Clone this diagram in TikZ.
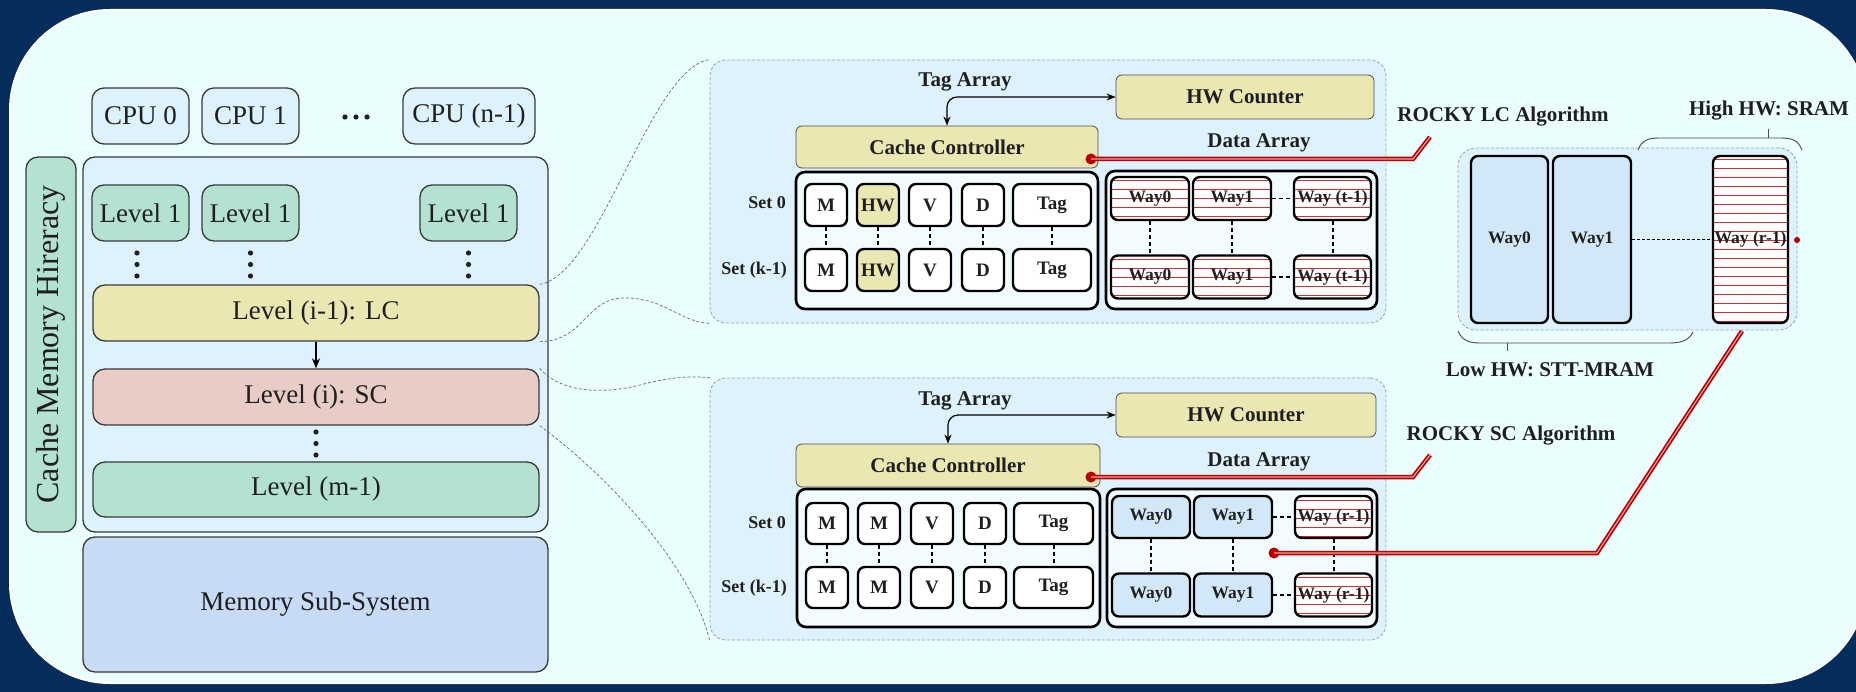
\documentclass[tikz,border=0pt]{standalone}
\usepackage{fontspec}
\setmainfont{Liberation Serif}
\usetikzlibrary{arrows.meta}

\definecolor{navy}{HTML}{052D5C}
\definecolor{panelbg}{HTML}{EAFEFE}
\definecolor{lightblue}{HTML}{DDF2FD}
\definecolor{lvgreen}{HTML}{B3E3D0}
\definecolor{lvyellow}{HTML}{EAE7B3}
\definecolor{lvpink}{HTML}{E8CDC6}
\definecolor{memblue}{HTML}{C7DAF6}
\definecolor{mramfill}{HTML}{D2E8F8}
\definecolor{tabfill}{HTML}{F2FCFF}
\definecolor{boxline}{HTML}{3A3A3A}
\definecolor{txt}{HTML}{1F1F1F}
\definecolor{rockyred}{HTML}{B80000}
\definecolor{rockypink}{HTML}{F2A0A0}
\definecolor{stripe}{HTML}{D03030}

\tikzset{
  sz/.style 2 args={minimum width=#1pt, minimum height=#2pt},
  box/.style={draw=boxline, line width=1.3pt, rounded corners=12pt, inner sep=0pt,
    text=txt, font=\fontsize{27}{30}\selectfont},
  panel/.style={draw=gray!75, densely dashed, line width=0.8pt, fill=lightblue,
    rounded corners=16pt, inner sep=0pt},
  ctrl/.style={draw=gray!60!black, line width=0.8pt, fill=lvyellow, rounded corners=6pt,
    inner sep=0pt, text=txt, font=\bfseries\fontsize{21}{23}\selectfont},
  tab/.style={draw=black, line width=2.6pt, fill=tabfill, rounded corners=9pt, inner sep=0pt},
  cellbox/.style={draw=black, line width=2.4pt, rounded corners=7pt, inner sep=0pt,
    text=txt, font=\bfseries\fontsize{19}{21}\selectfont},
  waybox/.style={draw=black, line width=2.4pt, rounded corners=7pt, inner sep=0pt,
    text=txt, font=\bfseries\fontsize{17.5}{19}\selectfont},
  sram/.style={waybox, fill=white, path picture={
    \foreach \k in {0,...,19}
      \draw[stripe, line width=1pt] (path picture bounding box.north west) ++(-2,4+\k*9) -- ++(130,0);}},
  mram/.style={waybox, fill=mramfill},
  lbl/.style={inner sep=0pt, text=txt, font=\bfseries\fontsize{21}{23}\selectfont},
  setlbl/.style={inner sep=0pt, anchor=east, text=txt, font=\bfseries\fontsize{18}{20}\selectfont},
  sep/.style={line width=2pt, dash pattern=on 4pt off 3pt},
  dblarrow/.style={{Stealth[length=9pt,width=7pt]}-{Stealth[length=9pt,width=7pt]},
    line width=1.2pt, rounded corners=10pt},
  zoomline/.style={draw=gray!85!black, densely dashed, line width=0.7pt},
  rocky/.style={draw=rockyred, line width=1.7pt, double=rockypink, double distance=1.1pt},
  rockydot/.style={circle, fill=rockyred, inner sep=0pt, minimum size=11pt},
  brace/.style={draw=gray!60!black, line width=0.9pt},
}

\begin{document}
\begin{tikzpicture}[x=1pt,y=-1pt]
\useasboundingbox (0,0) rectangle (1856,692);
\clip (0,0) rectangle (1856,692);
\fill[navy] (0,0) rectangle (1856,692);
\path[fill=panelbg, draw=white, line width=2pt, rounded corners=100pt] (10,10) rectangle (1866,683);

% processors and cache levels
\node[box, fill=lightblue, sz={97}{56}] (cpu0) at (140.5,116) {CPU 0};
\node[box, fill=lightblue, sz={97}{56}] (cpu1) at (250.5,116) {CPU 1};
\node[box, fill=lightblue, sz={132}{56}] (cpun) at (469,116) {CPU (n-1)};
\foreach \x in {345,356,367}
  \fill[txt] (\x,117) circle (2.6pt);

\node[box, fill=lvgreen, rotate=90, sz={375}{50}, font=\fontsize{32}{34}\selectfont] (hier) at (51,344.5) {Cache Memory Hireracy};
\node[box, fill=lightblue, sz={465}{375}] (cache) at (315.5,344.5) {};

\node[box, fill=lvgreen, sz={97}{56}] (l1a) at (140.5,213) {Level 1};
\node[box, fill=lvgreen, sz={97}{56}] (l1b) at (250.5,213) {Level 1};
\node[box, fill=lvgreen, sz={97}{56}] (l1c) at (468.5,213) {Level 1};
\foreach \x in {137,250.5,468.5}
  \foreach \y in {253,264.5,276}
    \fill[txt] (\x,\y) circle (2.6pt);

\node[box, fill=lvyellow, sz={446}{56}] (lc) at (316,313) {Level (i-1): LC};
\node[box, fill=lvpink, sz={446}{56}] (sc) at (316,397) {Level (i): SC};
\foreach \y in {432,443.5,455}
  \fill[txt] (316,\y) circle (2.6pt);
\node[box, fill=lvgreen, sz={446}{55}] (lm) at (316,489.5) {Level (m-1)};
\node[box, fill=memblue, sz={465}{135}] (mem) at (315.5,604.5) {Memory Sub-System};
\draw[-{Stealth[length=10pt,width=8pt]}, line width=1.3pt] (lc.south) -- (sc.north);

% LC detail
\node[panel, sz={676}{263}] (lcpanel) at (1048,191.5) {};
\node[lbl] (tagA) at (965,82) {Tag Array};
\node[ctrl, sz={258}{44}] (hwcA) at (1245,97) {HW Counter};
\node[ctrl, sz={302}{42}] (ccA) at (947,147) {Cache Controller};
\node[lbl] (dataA) at (1259,143) {Data Array};
\draw[dblarrow] (ccA.north) |- (hwcA.west);

\node[tab, sz={302}{137}] (tagtabA) at (947,240.5) {};
\node[setlbl] (setA0) at (786,203) {Set 0};
\node[setlbl] (setAk) at (787,270) {Set (k-1)};
\foreach \n/\x/\w/\t/\f in {m/826/42/M/white, hw/878/42/HW/lvyellow, v/930/42/V/white,
    d/983/42/D/white, tag/1052/78/Tag/white} {
  \node[cellbox, fill=\f, sz={\w}{42}] (\n A1) at (\x,205) {\t};
  \node[cellbox, fill=\f, sz={\w}{42}] (\n A2) at (\x,270) {\t};
  \draw[sep] (\n A1.south) -- (\n A2.north);
}

\node[tab, sz={271}{138}] (datatabA) at (1241.5,240) {};
\node[sram, sz={78}{43}] (aw0t) at (1150,198.5) {Way0};
\node[sram, sz={78}{43}] (aw1t) at (1232,198.5) {Way1};
\node[sram, sz={77}{43}] (awrt) at (1332.5,198.5) {Way (t-1)};
\node[sram, sz={78}{43}] (aw0b) at (1150,277) {Way0};
\node[sram, sz={78}{43}] (aw1b) at (1232,277) {Way1};
\node[sram, sz={77}{43}] (awrb) at (1332.5,277) {Way (t-1)};
\foreach \w in {aw0,aw1,awr}
  \draw[sep] (\w t.south) -- (\w b.north);
\draw[sep, line width=1.6pt] (aw1t.east) -- (awrt.west);
\draw[sep, line width=1.6pt] (aw1b.east) -- (awrb.west);

% SC detail
\node[panel, sz={676}{262}] (scpanel) at (1048,509) {};
\node[lbl] (tagB) at (965,401) {Tag Array};
\node[ctrl, sz={260}{44}] (hwcB) at (1246,415) {HW Counter};
\node[ctrl, sz={304}{43}] (ccB) at (948,465.5) {Cache Controller};
\node[lbl] (dataB) at (1259,462) {Data Array};
\draw[dblarrow] (ccB.north) |- (hwcB.west);

\node[tab, sz={303}{138}] (tagtabB) at (948.5,558) {};
\node[setlbl] (setB0) at (786,523) {Set 0};
\node[setlbl] (setBk) at (787,588) {Set (k-1)};
\foreach \n/\x/\w/\t in {m/827/42/M, mm/879/42/M, v/932/42/V, d/985/42/D, tag/1053.5/79/Tag} {
  \node[cellbox, fill=white, sz={\w}{41}] (\n B1) at (\x,523.5) {\t};
  \node[cellbox, fill=white, sz={\w}{41}] (\n B2) at (\x,587.5) {\t};
  \draw[sep] (\n B1.south) -- (\n B2.north);
}

\node[tab, sz={270}{138}] (datatabB) at (1242,558) {};
\node[mram, sz={78}{42}] (bw0t) at (1151,517) {Way0};
\node[mram, sz={78}{42}] (bw1t) at (1233,517) {Way1};
\node[sram, sz={77}{42}] (bwrt) at (1333.5,517) {Way (r-1)};
\node[mram, sz={78}{43}] (bw0b) at (1151,595) {Way0};
\node[mram, sz={78}{43}] (bw1b) at (1233,595) {Way1};
\node[sram, sz={77}{43}] (bwrb) at (1333.5,595) {Way (r-1)};
\foreach \w in {bw0,bw1,bwr}
  \draw[sep] (\w t.south) -- (\w b.north);
\draw[sep, line width=1.6pt] (bw1t.east) -- (bwrt.west);
\draw[sep, line width=1.6pt] (bw1b.east) -- (bwrb.west);

% zoom lines
\draw[zoomline] (lc.north east) .. controls (600,275) and (650,68) .. (lcpanel.north west);
\draw[zoomline] (lc.south east) .. controls (585,341) and (585,298) .. (625,298)
  .. controls (665,298) and (680,322) .. (lcpanel.south west);
\draw[zoomline] (sc.north east) .. controls (560,392) and (600,395) .. (640,385)
  .. controls (670,377) and (690,376) .. (scpanel.north west);
\draw[zoomline] (sc.south east) .. controls (600,470) and (690,560) .. (scpanel.south west);

% hybrid way layout
\node[panel, rounded corners=18pt, sz={339}{182}] (rpanel) at (1627.5,239) {};
\node[mram, sz={77}{167}] (rw0) at (1509.5,239.5) {Way0};
\node[mram, sz={78}{167}] (rw1) at (1592,239.5) {Way1};
\node[sram, sz={75}{167}] (rwr) at (1750.5,239.5) {Way (r-1)};
\draw[line width=1.5pt, dash pattern=on 3pt off 2pt] (rw1.east) -- (rwr.west);
\fill[rockyred] (1797,240) circle (3pt);

\node[lbl] (highhw) at (1769,111) {High HW: SRAM};
\draw[brace] (1638,150) .. controls (1642,140) and (1648,138) .. (1660,138) -- (1780,138)
  .. controls (1792,138) and (1798,140) .. (1802,150);
\draw[brace] (1768,138) -- (1768,129);
\node[lbl] (lowhw) at (1550,370) {Low HW: STT-MRAM};
\draw[brace] (1458,331) .. controls (1462,340) and (1468,343) .. (1480,343) -- (1670,343)
  .. controls (1682,343) and (1689,340) .. (1693,332);
\draw[brace] (1507,343) -- (1507,351);

% ROCKY algorithms
\node[lbl] (rockyLC) at (1503,117) {ROCKY LC Algorithm};
\node[lbl] (rockySC) at (1511,436) {ROCKY SC Algorithm};
\coordinate (lcEnd) at (1430,137);
\coordinate (scEnd) at (1430,455);
\coordinate (swEnd) at (1742,331);
\node[rockydot] (dotA) at (1091,159) {};
\node[rockydot] (dotB) at (1091,477) {};
\node[rockydot] (dotC) at (1274,553) {};
\draw[rocky] (dotA.center) -- ++(322,0) -- (lcEnd);
\draw[rocky] (dotB.center) -- ++(322,0) -- (scEnd);
\draw[rocky] (dotC.center) -- ++(323,0) -- (swEnd);
\end{tikzpicture}
\end{document}
